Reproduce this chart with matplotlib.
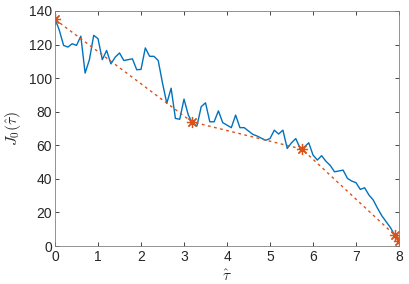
# J0 curve with piecewise linear fit through breakpoints

import numpy as np
import matplotlib.pyplot as plt

plt.rcParams['font.family'] = ['Liberation Sans', 'DejaVu Sans']
plt.rcParams['mathtext.fontset'] = 'cm'

# sampled curve, step 0.1
tau = np.arange(80) * 0.1
j0 = [135.5, 128.5, 119.5, 118.5, 120.5, 119.5, 125.0, 103.0, 111.0, 125.5,
      123.5, 111.0, 116.5, 108.5, 112.5, 115.0, 110.5, 111.0, 111.5, 105.0,
      105.2, 118.0, 113.0, 113.0, 110.5, 97.0, 85.0, 94.0, 76.0, 75.5,
      87.5, 78.0, 73.0, 71.5, 83.0, 85.3, 74.0, 74.0, 80.5, 73.5,
      72.0, 70.5, 78.0, 70.5, 70.5, 68.5, 66.5, 65.5, 64.2, 63.0,
      64.0, 69.0, 66.7, 69.0, 58.1, 61.5, 64.0, 58.1, 59.0, 61.5,
      54.2, 51.2, 53.8, 50.5, 48.0, 44.2, 44.7, 45.2, 40.3, 38.7,
      37.7, 33.7, 34.7, 30.4, 27.4, 22.5, 18.0, 14.5, 11.0, 6.5]

# breakpoints of the fit
brk_tau = [0.0, 3.18, 5.745, 7.9, 8.0]
brk_j0 = [135.0, 74.0, 57.7, 6.5, 3.2]

blue = '#0072BD'
orange = '#D95319'
gray = '#262626'

fig = plt.figure(figsize=(4.09, 2.84), dpi=100)
ax = fig.add_axes([0.1345, 0.1338, 0.8411, 0.8275])

ax.plot(tau, j0, color=blue, lw=1.0)
# asterisk marker like matlab '*'
ax.plot(brk_tau, brk_j0, color=orange, lw=1.0, ls=(0, (2, 2.5)),
        marker=(8, 2, 0), markersize=8, markeredgewidth=0.9)

ax.set_xlim(0, 8)
ax.set_ylim(0, 140)
ax.set_xticks(range(0, 9))
ax.set_yticks(range(0, 141, 20))
ax.tick_params(direction='in', top=True, right=True, length=3, width=0.6,
               labelsize=10, colors=gray, pad=3)
ax.tick_params(axis='y', pad=2)
for s in ax.spines.values():
    s.set_color('#808080')
    s.set_linewidth(0.6)

ax.set_xlabel(r'$\hat{\tau}$', fontsize=11, color=gray, labelpad=3)
ax.set_ylabel(r'$J_0(\hat{\tau})$', fontsize=11.5, color=gray, labelpad=4)

fig.savefig('out.png', dpi=100)
